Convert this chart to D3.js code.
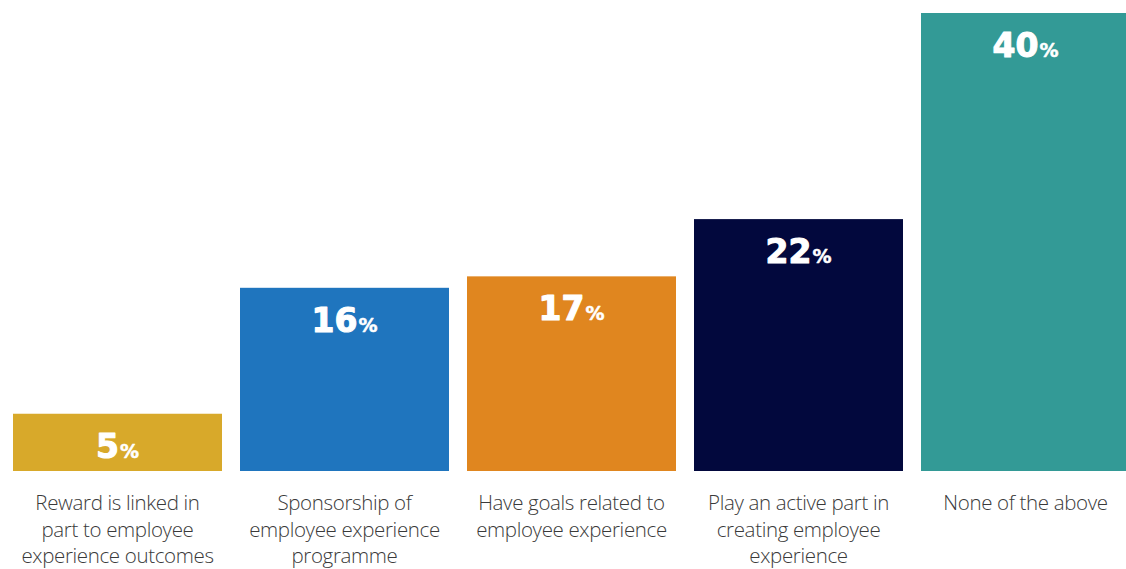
<!DOCTYPE html>
<html>
<head>
<meta charset="utf-8">
<script src="https://cdn.jsdelivr.net/npm/d3@7"></script>
<style>
  html, body { margin: 0; padding: 0; background: #fff; }
  svg { display: block; }
</style>
</head>
<body>
<svg id="chart" width="1126" height="569"></svg>
<script>
// Share of respondents by employee-experience involvement
const categories = [
  ["Reward is linked in", "part to employee", "experience outcomes"],
  ["Sponsorship of", "employee experience", "programme"],
  ["Have goals related to", "employee experience"],
  ["Play an active part in", "creating employee", "experience"],
  ["None of the above"]
];
const values = [5, 16, 17, 22, 40];
const colors = ["#D8A92A", "#1F75BE", "#E0861F", "#02083D", "#339A96"];

(function draw() {
  const svg = d3.select("#chart");
  const baseY = 471, topY = 13;

  const x = d3.scaleBand()
    .domain(d3.range(values.length))
    .range([13, 1130])
    .paddingInner(0.0793)
    .paddingOuter(0);

  const y = d3.scaleLinear()
    .domain([0, 40])
    .range([baseY, topY]);

  const g = svg.append("g");

  g.selectAll("rect.bar")
    .data(values)
    .join("rect")
    .attr("class", "bar")
    .attr("x", (d, i) => x(i))
    .attr("width", x.bandwidth())
    .attr("y", d => y(d))
    .attr("height", d => baseY - y(d))
    .attr("fill", (d, i) => colors[i]);

  // value labels inside the bars
  const vl = g.selectAll("text.val")
    .data(values)
    .join("text")
    .attr("class", "val")
    .attr("x", (d, i) => x(i) + x.bandwidth() / 2)
    .attr("y", d => y(d) + 44)
    .attr("text-anchor", "middle")
    .attr("fill", "#fff")
    .attr("stroke", "#fff")
    .attr("stroke-linejoin", "round")
    .style("font-family", "'DejaVu Sans', sans-serif")
    .style("font-weight", 700);
  vl.append("tspan").style("font-size", "33px").attr("stroke-width", 1.1).text(d => d);
  vl.append("tspan").style("font-size", "19px").attr("stroke-width", 0.5).attr("dx", 1).text("%");

  // category labels under the bars
  const cl = g.selectAll("text.cat")
    .data(categories)
    .join("text")
    .attr("class", "cat")
    .attr("x", (d, i) => x(i) + x.bandwidth() / 2)
    .attr("y", 510)
    .attr("text-anchor", "middle")
    .attr("fill", "#3a3a3a")
    .style("font-family", "'Open Sans', sans-serif")
    .style("font-weight", 300)
    .style("font-size", "20.5px")
    .style("letter-spacing", "-0.35px");
  cl.each(function(lines, i) {
    const cx = x(i) + x.bandwidth() / 2;
    d3.select(this).selectAll("tspan")
      .data(lines)
      .join("tspan")
      .attr("x", cx)
      .attr("dy", (d, j) => j === 0 ? 0 : 26.5)
      .text(d => d);
  });
})();
</script>
</body>
</html>
